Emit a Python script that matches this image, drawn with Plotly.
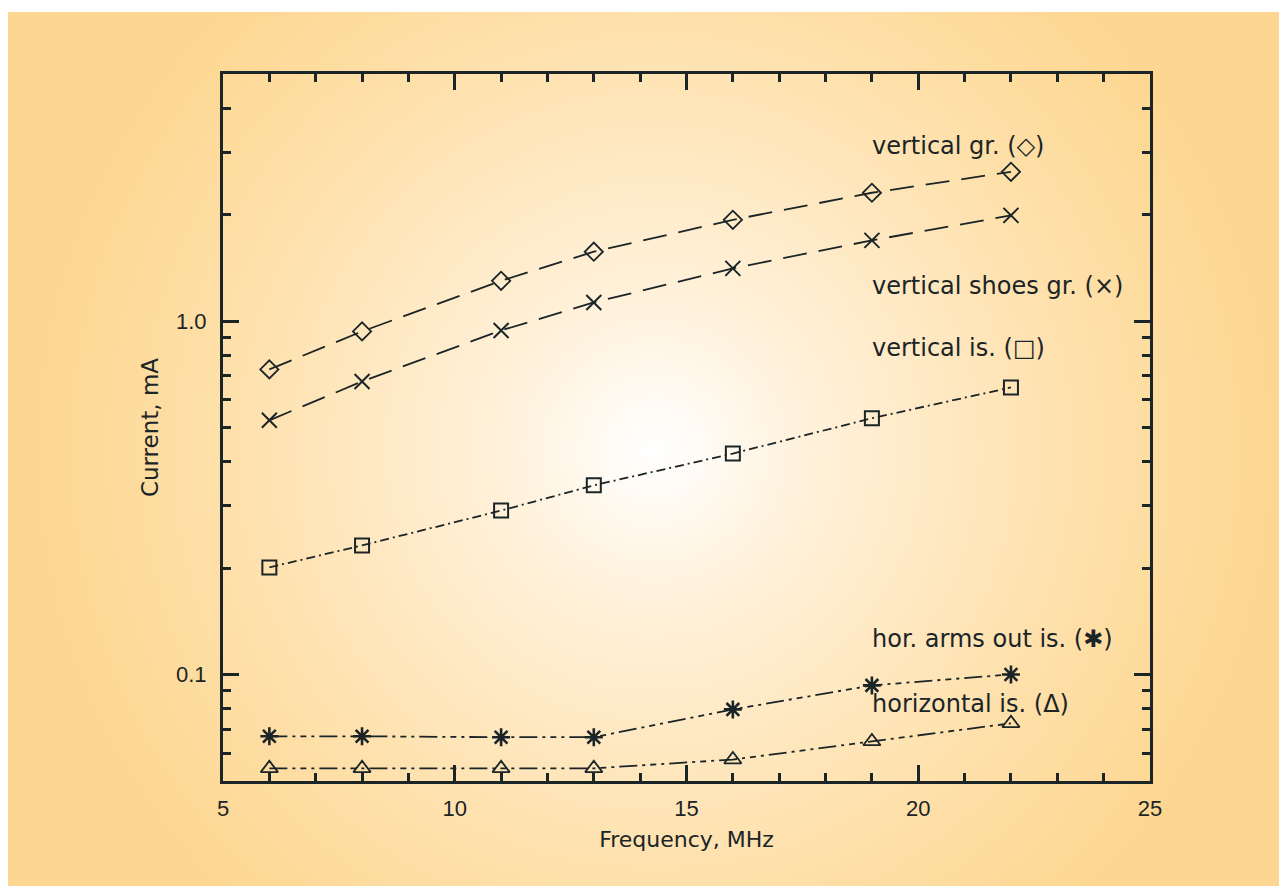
import base64
import math
import plotly.graph_objects as go

# ---- data ----
freq = [6, 8, 11, 13, 16, 19, 22]
vertical_gr = [0.730, 0.935, 1.30, 1.571, 1.934, 2.307, 2.644]
vertical_shoes_gr = [0.524, 0.675, 0.941, 1.129, 1.410, 1.692, 1.991]
vertical_is = [0.201, 0.232, 0.291, 0.343, 0.422, 0.531, 0.649]
hor_arms_out_is = [0.0669, 0.0669, 0.0665, 0.0665, 0.0797, 0.0932, 0.1001]
horizontal_is = [0.0543, 0.0543, 0.0543, 0.0543, 0.0575, 0.0647, 0.0728]

series_names = ["vertical gr.", "vertical shoes gr.", "vertical is.",
                "hor. arms out is.", "horizontal is."]
label_texts = ["vertical gr. (\u25c7)", "vertical shoes gr. (\u00d7)", "vertical is. (\u25a1)",
               "hor. arms out is. (\u2731)", "horizontal is. (\u0394)"]
label_x = [19, 19, 19, 19, 19]
label_y = [3.12, 1.253, 0.838, 0.1259, 0.0824]

x_tickvals = [5, 10, 15, 20, 25]
y_tickvals = [0.1, 1.0]
y_ticktext = ["0.1", "1.0"]
y_minor = [0.06, 0.07, 0.08, 0.09, 0.2, 0.3, 0.4, 0.5, 0.6, 0.7, 0.8, 0.9, 2, 3, 4]

INK = "#1b2426"
FONT = "Liberation Sans, DejaVu Sans, sans-serif"
LFONT = "DejaVu Sans, sans-serif"

svg = (
    '<svg xmlns="http://www.w3.org/2000/svg" width="1300" height="900">'
    '<defs><radialGradient id="g" gradientUnits="userSpaceOnUse" cx="647" cy="438" r="620">'
    '<stop offset="0" stop-color="#ffffff"/>'
    '<stop offset="0.25" stop-color="#fff1da"/>'
    '<stop offset="0.7" stop-color="#fee0aa"/>'
    '<stop offset="1" stop-color="#fdd791"/>'
    '</radialGradient></defs>'
    '<rect width="1300" height="900" fill="url(#g)"/></svg>'
)
bg_src = "data:image/svg+xml;base64," + base64.b64encode(svg.encode()).decode()

styles = [
    dict(data=vertical_gr, symbol="diamond-open", size=14, dash="24px,12px", mw=1.8),
    dict(data=vertical_shoes_gr, symbol="x-thin-open", size=15, dash="24px,12px", mw=2),
    dict(data=vertical_is, symbol="square-open", size=14, dash="9px,4px,2px,4px", mw=2),
    dict(data=hor_arms_out_is, symbol="asterisk-open", size=15, dash="18px,5px,3px,5px,6px,5px,3px,5px", mw=2.6),
    dict(data=horizontal_is, symbol="triangle-up-open", size=15, dash="18px,5px,3px,5px,6px,5px,3px,5px", mw=1.8),
]

fig = go.Figure()
for name, st in zip(series_names, styles):
    fig.add_trace(go.Scatter(
        x=freq, y=st["data"], name=name, mode="lines+markers",
        line=dict(color=INK, width=1.8, dash=st["dash"]),
        marker=dict(symbol=st["symbol"], size=st["size"], color=INK,
                    line=dict(color=INK, width=st["mw"])),
        showlegend=False,
    ))

for t, lx, ly in zip(label_texts, label_x, label_y):
    fig.add_annotation(x=lx, y=math.log10(ly), text=t, showarrow=False,
                       xanchor="left", yanchor="middle", xshift=-2,
                       font=dict(family=LFONT, size=24, color=INK))

axis_common = dict(
    showline=True, linecolor=INK, linewidth=3, mirror="allticks",
    ticks="inside", ticklen=16, tickwidth=3, tickcolor=INK,
    showgrid=False, zeroline=False,
    tickfont=dict(family=FONT, size=22, color=INK),
)

fig.update_xaxes(
    range=[5, 25], tickvals=x_tickvals, ticklabelstandoff=6,
    minor=dict(ticks="inside", ticklen=8, tickwidth=3, tickcolor=INK, dtick=1, showgrid=False),
    title=dict(text="Frequency, MHz", font=dict(family=LFONT, size=22, color=INK), standoff=12),
    **axis_common,
)
fig.update_yaxes(
    type="log", range=[-1.30103, 0.69897], tickvals=y_tickvals, ticktext=y_ticktext,
    ticklabelstandoff=9,
    minor=dict(ticks="inside", ticklen=8, tickwidth=3, tickcolor=INK, tickvals=y_minor, showgrid=False),
    title=dict(text="Current, mA", font=dict(family=LFONT, size=23, color=INK), standoff=11),
    **axis_common,
)

fig.update_layout(
    width=1287, height=886,
    margin=dict(l=215, r=145, t=66, b=113, autoexpand=False),
    paper_bgcolor="white", plot_bgcolor="rgba(0,0,0,0)",
    images=[dict(source=bg_src, xref="paper", yref="paper",
                 x=(0 - 215) / 927, y=(773 - 4) / 707,
                 sizex=1300 / 927, sizey=900 / 707,
                 xanchor="left", yanchor="top", sizing="stretch", layer="below")],
)

fig.write_html("out.html")
